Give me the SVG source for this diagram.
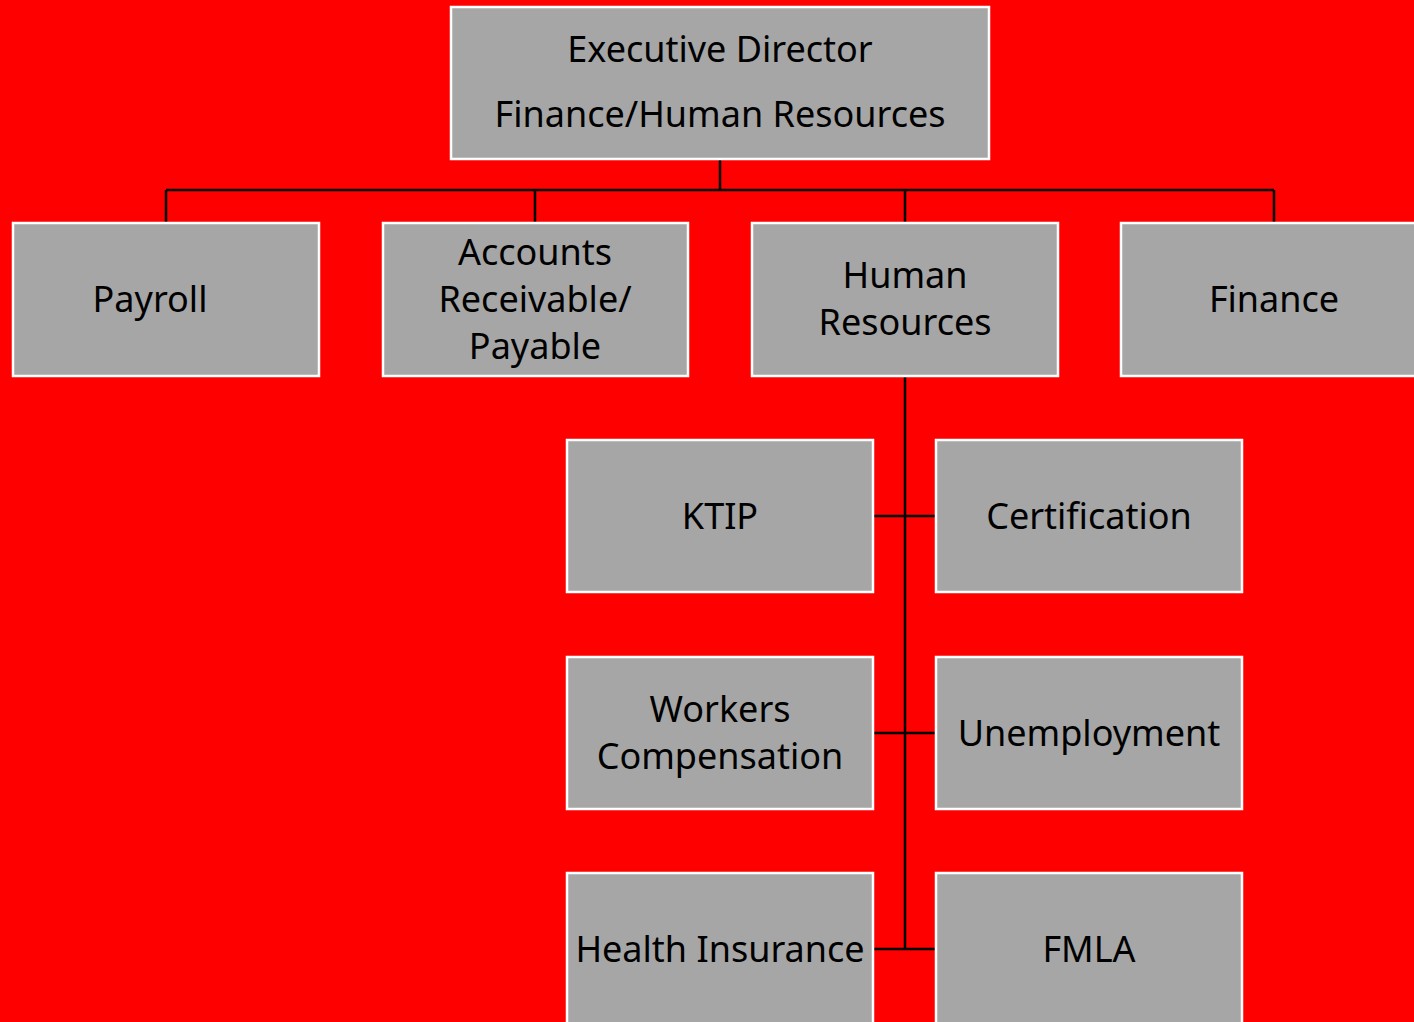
<svg xmlns="http://www.w3.org/2000/svg" width="1414" height="1022" viewBox="0 0 1414 1022">
<style>
.box{fill:#a6a6a6;stroke:#ffffff;stroke-width:2.5}
.t{font-family:"Noto Sans","Open Sans",sans-serif;font-size:36px;fill:#000;text-anchor:middle}
.c{fill:none;stroke:#000;stroke-width:2.5}
</style>
<rect width="1414" height="1022" fill="#ff0000"/>
<g id="connectors">
<path class="c" d="M720,159V190M166,190H1274M166,190V223M535,190V223M905,190V223M1274,190V223"/>
<path class="c" d="M905,376V949M873,516H936M873,733H936M873,949H936"/>
</g>
<g id="exec"><rect class="box" x="451" y="7" width="538" height="152"/>
<text class="t" x="720" y="62">Executive Director</text><text class="t" x="720" y="127">Finance/Human Resources</text></g>
<g id="payroll"><rect class="box" x="13" y="223" width="306" height="153"/><text class="t" x="150" y="312">Payroll</text></g>
<g id="ar"><rect class="box" x="383" y="223" width="305" height="153"/><text class="t" x="535" y="265">Accounts</text><text class="t" x="535" y="312">Receivable/</text><text class="t" x="535" y="359">Payable</text></g>
<g id="hr"><rect class="box" x="752" y="223" width="306" height="153"/><text class="t" x="905" y="288">Human</text><text class="t" x="905" y="335">Resources</text></g>
<g id="finance"><rect class="box" x="1121" y="223" width="306" height="153"/><text class="t" x="1274" y="312">Finance</text></g>
<g id="ktip"><rect class="box" x="567" y="440" width="306" height="152"/><text class="t" x="720" y="529">KTIP</text></g>
<g id="cert"><rect class="box" x="936" y="440" width="306" height="152"/><text class="t" x="1089" y="529">Certification</text></g>
<g id="workers"><rect class="box" x="567" y="657" width="306" height="152"/><text class="t" x="720" y="722">Workers</text><text class="t" x="720" y="769">Compensation</text></g>
<g id="unemp"><rect class="box" x="936" y="657" width="306" height="152"/><text class="t" x="1089" y="746">Unemployment</text></g>
<g id="health"><rect class="box" x="567" y="873" width="306" height="160"/><text class="t" x="720" y="962">Health Insurance</text></g>
<g id="fmla"><rect class="box" x="936" y="873" width="306" height="160"/><text class="t" x="1089" y="962">FMLA</text></g>
</svg>
